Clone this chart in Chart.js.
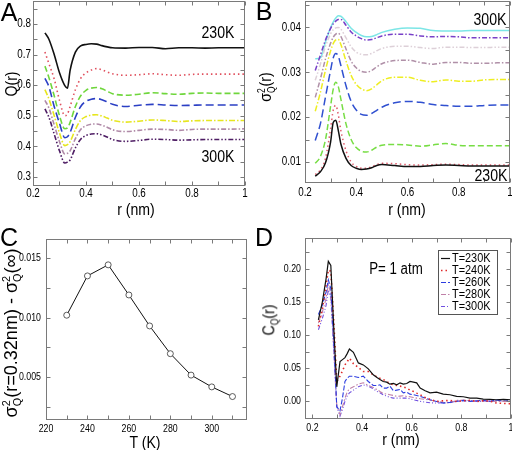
<!DOCTYPE html>
<html>
<head>
<meta charset="utf-8">
<script src="https://cdn.jsdelivr.net/npm/chart.js@4.4.1/dist/chart.umd.min.js"></script>
<style>
  body { margin: 0; background: #fff; }
  #wrap { position: relative; width: 512px; height: 450px; overflow: hidden; color: #000;
          font-family: "Liberation Sans", Arial, sans-serif; }
  canvas { position: absolute; }
  .t { position: absolute; white-space: nowrap; line-height: 1; transform: translate(-50%, -50%) scaleX(0.83); }
  .rot { transform: translate(-50%, -50%) rotate(-90deg) scaleX(0.83); }
  .big { font-size: 25px; transform: translate(-50%, -50%); }
  .ttl { font-size: 17px; }
  .stk { display: inline-flex; flex-direction: column; font-size: 0.6em; line-height: 0.95; vertical-align: middle; }
</style>
</head>
<body>
<div id="wrap">
  <canvas id="cA" width="256" height="225" style="left:0;top:0"></canvas>
  <canvas id="cB" width="256" height="225" style="left:256px;top:0"></canvas>
  <canvas id="cC" width="256" height="225" style="left:0;top:225px"></canvas>
  <canvas id="cD" width="256" height="225" style="left:256px;top:225px"></canvas>

  <div class="t big" style="left:9px;top:12px">A</div>
  <div class="t big" style="left:264px;top:11px">B</div>
  <div class="t big" style="left:9px;top:237px">C</div>
  <div class="t big" style="left:264px;top:237px">D</div>

  <div class="t rot ttl" style="left:11px;top:84px">Q(r)</div>
  <div class="t ttl" style="left:136px;top:209px">r (nm)</div>
  <div class="t" style="left:218px;top:32px;font-size:17px">230K</div>
  <div class="t" style="left:218px;top:156px;font-size:17px">300K</div>

  <div class="t rot ttl" style="left:267px;top:87px">σ<span class="stk"><span>2</span><span>Q</span></span>(r)</div>
  <div class="t ttl" style="left:407px;top:209px">r (nm)</div>
  <div class="t" style="left:490px;top:19px;font-size:17px">300K</div>
  <div class="t" style="left:491px;top:175px;font-size:17px">230K</div>

  <div class="t" style="left:12px;top:333px;font-size:19px;transform:translate(-50%,-50%) rotate(-90deg) scaleX(0.95)">σ<span class="stk"><span>2</span><span>Q</span></span>(r=0.32nm) - σ<span class="stk"><span>2</span><span>Q</span></span>(∞)</div>
  <div class="t ttl" style="left:145px;top:442px">T (K)</div>

  <div class="t rot ttl" style="left:270px;top:320px">C<span class="stk"><span>&nbsp;</span><span>Q</span></span>(r)</div>
  <div class="t ttl" style="left:401px;top:439px">r (nm)</div>
  <div class="t" style="left:396px;top:269px;font-size:16px">P= 1 atm</div>
</div>

<script>
// ---- panel A : Q(r)
const rA = [0.245,0.26,0.28,0.30,0.32,0.33,0.34,0.36,0.38,0.40,0.42,0.44,0.46,0.48,0.50,0.55,0.60,0.65,0.70,0.75,0.80,0.85,0.90,0.95,1.0];
const qA230 = [0.771,0.750,0.700,0.640,0.598,0.590,0.648,0.708,0.728,0.733,0.735,0.734,0.729,0.725,0.722,0.721,0.723,0.723,0.719,0.722,0.722,0.721,0.722,0.722,0.722];
const qA240 = [0.708,0.670,0.620,0.550,0.500,0.505,0.530,0.585,0.622,0.640,0.649,0.654,0.650,0.643,0.637,0.632,0.634,0.637,0.634,0.632,0.635,0.636,0.636,0.636,0.636];
const qA250 = [0.662,0.625,0.565,0.500,0.457,0.460,0.478,0.530,0.565,0.583,0.590,0.592,0.588,0.580,0.572,0.567,0.570,0.575,0.572,0.570,0.573,0.574,0.573,0.573,0.573];
const qA260 = [0.622,0.595,0.530,0.475,0.428,0.431,0.445,0.495,0.530,0.547,0.554,0.556,0.552,0.545,0.537,0.530,0.534,0.537,0.535,0.533,0.534,0.535,0.535,0.535,0.535];
const qA270 = [0.585,0.555,0.500,0.443,0.402,0.405,0.415,0.455,0.485,0.497,0.502,0.503,0.499,0.492,0.485,0.479,0.482,0.486,0.484,0.481,0.483,0.484,0.484,0.484,0.484];
const qA280 = [0.550,0.525,0.470,0.415,0.375,0.377,0.385,0.425,0.455,0.467,0.472,0.473,0.469,0.462,0.454,0.448,0.452,0.456,0.455,0.452,0.455,0.456,0.456,0.456,0.457];
const qA300 = [0.522,0.495,0.440,0.385,0.345,0.348,0.355,0.395,0.423,0.435,0.440,0.441,0.437,0.430,0.422,0.416,0.419,0.423,0.422,0.420,0.421,0.422,0.422,0.422,0.422];

// ---- panel B : sigma_Q^2(r)
const rB = [0.24,0.26,0.28,0.30,0.31,0.32,0.33,0.34,0.36,0.38,0.40,0.42,0.44,0.46,0.48,0.50,0.55,0.60,0.65,0.70,0.75,0.80,0.85,0.90,0.95,1.0];
const sB230 = [0.0068,0.0078,0.0098,0.0145,0.0188,0.0193,0.0170,0.0140,0.0108,0.0092,0.0086,0.0083,0.0084,0.0087,0.0092,0.0094,0.0092,0.0090,0.0090,0.0092,0.0093,0.0092,0.0091,0.0091,0.0091,0.0091];
const sB240 = [0.0072,0.0082,0.0108,0.0175,0.0215,0.0226,0.0205,0.0170,0.0125,0.0100,0.0090,0.0086,0.0086,0.0089,0.0094,0.0097,0.0096,0.0094,0.0093,0.0094,0.0095,0.0094,0.0093,0.0093,0.0093,0.0093];
const sB250 = [0.0097,0.0112,0.0150,0.0225,0.0262,0.0278,0.0268,0.0240,0.0185,0.0150,0.0132,0.0124,0.0122,0.0126,0.0133,0.0137,0.0139,0.0138,0.0135,0.0138,0.0141,0.0137,0.0136,0.0136,0.0136,0.0136];
const sB260 = [0.0148,0.0185,0.0245,0.0305,0.0332,0.0342,0.0336,0.0315,0.0270,0.0235,0.0216,0.0206,0.0204,0.0208,0.0215,0.0222,0.0232,0.0235,0.0233,0.0228,0.0226,0.0224,0.0224,0.0226,0.0227,0.0227];
const sB270 = [0.0213,0.0255,0.0305,0.0348,0.0364,0.0372,0.0373,0.0362,0.0325,0.0293,0.0273,0.0263,0.0259,0.0263,0.0272,0.0281,0.0289,0.0289,0.0282,0.0279,0.0283,0.0280,0.0280,0.0283,0.0284,0.0284];
const sB280 = [0.0244,0.0285,0.0330,0.0365,0.0378,0.0385,0.0387,0.0380,0.0352,0.0325,0.0310,0.0302,0.0300,0.0304,0.0312,0.0319,0.0326,0.0327,0.0322,0.0318,0.0322,0.0322,0.0320,0.0320,0.0321,0.0321];
const sB290 = [0.0282,0.0318,0.0358,0.0386,0.0395,0.0399,0.0400,0.0396,0.0377,0.0357,0.0345,0.0340,0.0339,0.0342,0.0348,0.0353,0.0358,0.0358,0.0355,0.0353,0.0356,0.0356,0.0355,0.0355,0.0356,0.0356];
const sB300 = [0.0304,0.0338,0.0372,0.0398,0.0408,0.0414,0.0418,0.0418,0.0405,0.0390,0.0381,0.0375,0.0372,0.0373,0.0377,0.0381,0.0385,0.0385,0.0381,0.0379,0.0380,0.0379,0.0377,0.0377,0.0377,0.0377];
const sB310 = [0.0330,0.0332,0.0368,0.0400,0.0412,0.0421,0.0426,0.0425,0.0413,0.0398,0.0389,0.0382,0.0379,0.0380,0.0384,0.0389,0.0396,0.0399,0.0398,0.0393,0.0392,0.0392,0.0393,0.0393,0.0393,0.0393];

// ---- panel C : peak height vs T
const tempC = [230,240,250,260,270,280,290,300,310];
const peakC = [0.0102,0.0135,0.01443,0.0119,0.0093,0.00697,0.00517,0.00418,0.00337];

// ---- panel D : C_Q(r)
const rD = [0.224,0.24,0.255,0.264,0.274,0.286,0.298,0.311,0.321,0.331,0.34,0.349,0.365,0.385,0.405,0.425,0.445,0.46,0.472,0.485,0.499,0.512,0.526,0.54,0.553,0.566,0.58,0.593,0.607,0.62,0.634,0.654,0.674,0.70,0.727,0.754,0.781,0.808,0.835,0.862,0.888,0.915,0.942,0.969,1.0];
const cD230 = [0.123,0.150,0.185,0.211,0.205,0.110,0.022,0.060,0.063,0.066,0.072,0.079,0.074,0.058,0.055,0.049,0.040,0.036,0.033,0.030,0.029,0.026,0.027,0.025,0.028,0.026,0.027,0.030,0.029,0.028,0.020,0.016,0.013,0.014,0.011,0.010,0.0075,0.007,0.005,0.005,0.0035,0.003,0.0025,0.003,0.0025];
const cD240 = [0.113,0.140,0.175,0.198,0.196,0.120,0.030,0.038,0.046,0.055,0.060,0.065,0.057,0.051,0.045,0.045,0.040,0.037,0.035,0.033,0.030,0.027,0.025,0.024,0.023,0.022,0.020,0.017,0.015,0.0125,0.010,0.006,0.003,0.000,0.001,0.0015,0.000,0.001,0.0015,0.000,0.001,0.0005,-0.0025,-0.003,-0.0035];
const cD260 = [0.131,0.145,0.165,0.183,0.170,0.090,-0.008,-0.014,0.005,0.030,0.035,0.038,0.038,0.036,0.038,0.030,0.024,0.024,0.025,0.020,0.020,0.023,0.016,0.017,0.018,0.013,0.014,0.011,0.010,0.009,0.0075,0.005,0.0025,0.000,-0.0025,-0.0015,0.000,0.0015,0.000,0.001,0.0015,0.000,0.002,0.0025,0.0015];
const cD280 = [0.118,0.135,0.155,0.176,0.163,0.080,-0.006,-0.020,-0.008,0.005,0.014,0.019,0.022,0.026,0.028,0.024,0.021,0.018,0.015,0.012,0.011,0.010,0.009,0.0075,0.008,0.0085,0.0075,0.007,0.006,0.005,0.004,0.003,0.002,0.000,-0.0015,-0.002,0.0015,0.002,0.001,0.000,0.001,0.0005,0.000,0.000,0.000];
const cD300 = [0.108,0.125,0.145,0.168,0.156,0.075,-0.008,-0.022,-0.012,0.000,0.008,0.013,0.017,0.022,0.025,0.023,0.019,0.015,0.013,0.010,0.008,0.006,0.005,0.005,0.005,0.005,0.005,0.004,0.0025,0.0015,0.000,-0.001,-0.002,-0.0025,-0.002,-0.001,0.000,0.001,0.0015,0.000,0.000,0.0005,0.0015,0.0005,0.000];

// tick labels and inner tick marks
const rTicks = [0.2,0.4,0.6,0.8,1.0];
const rMarks = [0.2,0.3,0.4,0.5,0.6,0.7,0.8,0.9,1.0];
const qTicks = [0.3,0.4,0.5,0.6,0.7,0.8];
const qMarks = [0.3,0.35,0.4,0.45,0.5,0.55,0.6,0.65,0.7,0.75,0.8,0.85];
const sTicks = [0.01,0.02,0.03,0.04];
const sMarks = [0.01,0.015,0.02,0.025,0.03,0.035,0.04,0.045];
const tTicks = [220,240,260,280,300];
const tMarks = [220,230,240,250,260,270,280,290,300,310];
const pTicks = [0.005,0.010,0.015];
const pMarks = [0.0025,0.005,0.0075,0.01,0.0125,0.015];
const cTicks = [0.00,0.05,0.10,0.15,0.20];
const cMarks = [-0.025,0,0.025,0.05,0.075,0.1,0.125,0.15,0.175,0.2,0.225];

const FAMILY = '"Liberation Sans", Arial, sans-serif';
Chart.defaults.font.family = FAMILY;
Chart.defaults.color = '#000';

// squeezed text, the figure uses a condensed face
const narrowText = (ctx, text, x, y, align, sq) => {
  ctx.save();
  ctx.translate(x, y);
  ctx.scale(sq, 1);
  ctx.textAlign = align;
  ctx.fillText(text, 0, 0);
  ctx.restore();
};

// frame + inward tick marks on all four sides + condensed tick labels
const frameTicks = {
  id: 'frameTicks',
  afterDatasetsDraw(chart, args, o) {
    if (!o.xm) return;
    const {ctx, chartArea: a, scales: {x, y}} = chart;
    const L = Math.round(a.left) + 0.5, R = Math.round(a.right) - 0.5;
    const T = Math.round(a.top) + 0.5, B = Math.round(a.bottom) - 0.5;
    ctx.save();
    ctx.strokeStyle = '#7a7a7a';
    ctx.lineWidth = 1;
    ctx.beginPath();
    o.xm.forEach(v => {
      const p = Math.round(x.getPixelForValue(v)) + 0.5;
      ctx.moveTo(p, B); ctx.lineTo(p, B - 4);
      ctx.moveTo(p, T); ctx.lineTo(p, T + 4);
    });
    o.ym.forEach(v => {
      const p = Math.round(y.getPixelForValue(v)) + 0.5;
      ctx.moveTo(L, p); ctx.lineTo(L + 4, p);
      ctx.moveTo(R, p); ctx.lineTo(R - 4, p);
    });
    ctx.stroke();
    ctx.strokeRect(L, T, R - L, B - T);

    ctx.fillStyle = '#000';
    ctx.font = o.fs + 'px ' + FAMILY;
    ctx.textBaseline = 'top';
    x.ticks.forEach(t => narrowText(ctx, o.fx(t.value), x.getPixelForValue(t.value), a.bottom + o.px, 'center', o.sq));
    ctx.textBaseline = 'middle';
    y.ticks.forEach(t => narrowText(ctx, o.fy(t.value), a.left - o.py, y.getPixelForValue(t.value), 'right', o.sq));
    ctx.restore();
  }
};

// boxed legend inside the plot (panel D)
const boxLegend = {
  id: 'boxLegend',
  afterDraw(chart, args, o) {
    if (!o.show) return;
    const ctx = chart.ctx;
    ctx.save();
    ctx.strokeStyle = '#555';
    ctx.lineWidth = 1;
    ctx.strokeRect(o.x + 0.5, o.y + 0.5, o.w, o.h);
    ctx.font = o.font;
    ctx.fillStyle = '#000';
    ctx.textBaseline = 'middle';
    chart.data.datasets.forEach((d, i) => {
      const yy = o.y + o.top + i * o.step;
      ctx.strokeStyle = d.borderColor;
      ctx.lineWidth = d.borderWidth;
      ctx.setLineDash(d.borderDash || []);
      ctx.beginPath();
      ctx.moveTo(o.x + 3, yy + 0.5);
      ctx.lineTo(o.x + 12, yy + 0.5);
      ctx.stroke();
      ctx.setLineDash([]);
      narrowText(ctx, d.label, o.x + 14, yy, 'left', 0.84);
    });
    ctx.restore();
  }
};

Chart.register(frameTicks, boxLegend);

const axis = (min, max, ticks, size) => ({
  type: 'linear', min: min, max: max,
  afterBuildTicks: (s) => { s.ticks = ticks.map(v => ({value: v})); },
  afterFit: (s) => {
    if (s.isHorizontal()) s.height = size; else s.width = size;
    s.paddingLeft = 0; s.paddingRight = 0; s.paddingTop = 0; s.paddingBottom = 0;
  },
  grid: {display: false, drawTicks: false},
  border: {display: false},
  ticks: {display: false}
});

const line = (label, xs, ys, color, dash, width, smooth) => ({
  label: label,
  data: xs.map((v, i) => ({x: v, y: ys[i]})),
  borderColor: color,
  borderDash: dash,
  borderWidth: width,
  pointRadius: 0,
  fill: false,
  cubicInterpolationMode: smooth ? 'monotone' : 'default',
  tension: 0
});

const fmtR = (v) => v === 1 ? '1' : v.toFixed(1);

const makeChart = (id, datasets, scales, pad, plugins) => new Chart(document.getElementById(id), {
  type: 'line',
  data: {datasets: datasets},
  options: {
    responsive: false,
    devicePixelRatio: 1,
    animation: false,
    layout: {padding: pad},
    scales: scales,
    plugins: Object.assign({legend: {display: false}, tooltip: {enabled: false}}, plugins)
  }
});

makeChart('cA', [
  line('230K', rA, qA230, '#111111', [], 1.6, true),
  line('240K', rA, qA240, '#e0505e', [1.5, 3], 1.6, true),
  line('250K', rA, qA250, '#6fd63c', [6, 3], 1.6, true),
  line('260K', rA, qA260, '#2b3fc4', [8, 4], 1.6, true),
  line('270K', rA, qA270, '#e6e61e', [6, 2, 1.5, 2], 1.6, true),
  line('280K', rA, qA280, '#b08aa8', [5, 2, 1.5, 2], 1.6, true),
  line('300K', rA, qA300, '#4e1d64', [5, 2, 1.5, 2, 1.5, 2], 1.6, true)
], {
  x: axis(0.2, 1.0, rTicks, 39),
  y: axis(0.27, 0.875, qTicks, 33)
}, {top: 1, right: 11, left: 0, bottom: 0},
{frameTicks: {xm: rMarks, ym: qMarks, fs: 12, sq: 0.82, px: 2, py: 2, fx: fmtR, fy: (v) => v.toFixed(1)}});

makeChart('cB', [
  line('230K', rB, sB230, '#111111', [], 1.5, true),
  line('240K', rB, sB240, '#e05a6a', [1.5, 3], 1.5, true),
  line('250K', rB, sB250, '#77dd44', [6, 3], 1.5, true),
  line('260K', rB, sB260, '#3050d0', [8, 4], 1.5, true),
  line('270K', rB, sB270, '#eeee22', [6, 2, 1.5, 2], 1.5, true),
  line('280K', rB, sB280, '#b090a8', [5, 2, 1.5, 2], 1.5, true),
  line('290K', rB, sB290, '#ddd0d8', [5, 2, 1.5, 2, 1.5, 2], 1.5, true),
  line('300K', rB, sB300, '#7840c8', [5, 2, 1.5, 2], 1.5, true),
  line('310K', rB, sB310, '#7de6e6', [], 1.5, true)
], {
  x: axis(0.2, 1.0, rTicks, 42),
  y: axis(0.0053, 0.0459, sTicks, 49)
}, {top: 1, right: 2, left: 0, bottom: 0},
{frameTicks: {xm: rMarks, ym: sMarks, fs: 12, sq: 0.82, px: 4, py: 4, fx: fmtR, fy: (v) => v.toFixed(2)}});

makeChart('cC', [{
  label: 'peak',
  data: tempC.map((t, i) => ({x: t, y: peakC[i]})),
  borderColor: '#111111',
  borderWidth: 1,
  pointRadius: 3,
  pointBackgroundColor: '#ffffff',
  pointBorderColor: '#333333',
  pointBorderWidth: 0.8,
  tension: 0
}], {
  x: axis(220, 317, tTicks, 30),
  y: axis(0.0014, 0.0166, pTicks, 46)
}, {top: 14, right: 9, left: 0, bottom: 0},
{frameTicks: {xm: tMarks, ym: pMarks, fs: 11, sq: 0.8, px: 3, py: 5, fx: (v) => String(v), fy: (v) => v.toFixed(3)}});

makeChart('cD', [
  line('T=230K', rD, cD230, '#111111', [], 1.2, false),
  line('T=240K', rD, cD240, '#e02828', [1.5, 3], 1.6, false),
  line('T=260K', rD, cD260, '#2c3ce0', [5, 2], 1.1, false),
  line('T=280K', rD, cD280, '#c080a8', [5, 2, 1.5, 2], 1.1, false),
  line('T=300K', rD, cD300, '#7050e0', [4, 2, 1, 2, 1, 2], 1.1, false)
], {
  x: axis(0.17, 1.0, rTicks, 31),
  y: axis(-0.0265, 0.2462, cTicks, 49)
}, {top: 13, right: 1, left: 0, bottom: 0}, {
  frameTicks: {xm: rMarks, ym: cMarks, fs: 11, sq: 0.8, px: 3, py: 4, fx: fmtR, fy: (v) => v.toFixed(2)},
  boxLegend: {show: true, x: 182, y: 25, w: 59, h: 64, top: 8, step: 12, font: '13px ' + FAMILY}
});
</script>
</body>
</html>
